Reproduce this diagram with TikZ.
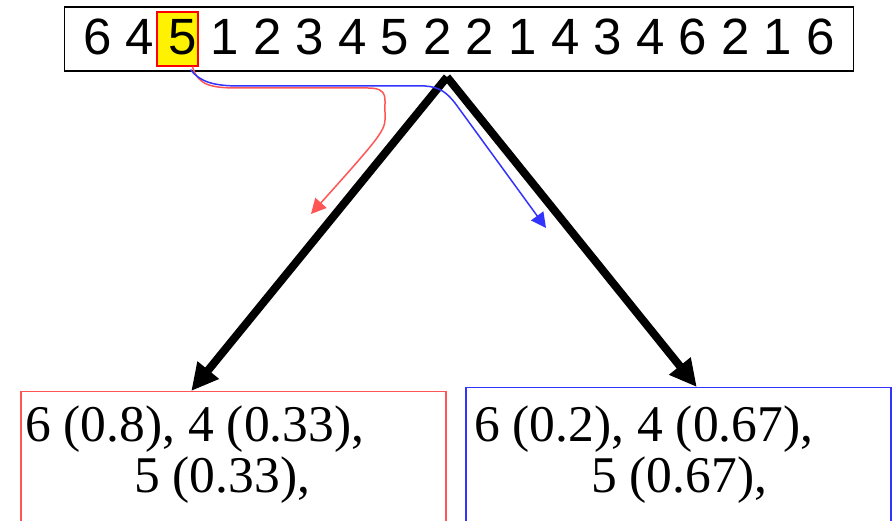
\documentclass[tikz,border=0pt]{standalone}
\usepackage{fontspec}
\setmainfont{Liberation Serif}
\newfontfamily\digitfont{Liberation Sans}
\usetikzlibrary{arrows.meta,calc}
\definecolor{SplitRed}{HTML}{FF5555}
\definecolor{SplitBlue}{HTML}{3333FF}

\begin{document}
\begin{tikzpicture}[
  x=1pt,y=-1pt,
  seqtext/.style={font=\digitfont\fontsize{51}{51}\selectfont,inner sep=0pt},
  leaftext/.style={font=\fontsize{51.5}{51}\selectfont,inner sep=0pt,anchor=base west},
  leaf/.style={draw,line width=1.5pt,anchor=north west,minimum width=425pt,
    minimum height=200pt,inner sep=0pt},
  branch/.style={-{Triangle[length=27pt,width=26pt]},line width=8pt},
  route/.style={-{Triangle[length=15pt,width=15pt]},line width=1.5pt},
]
\clip (0,0) rectangle (892,521);

% sequence with the chosen value
\node[draw=red,fill=yellow,line width=1.3pt,minimum width=41pt,minimum height=54pt,
  inner sep=0pt] (pick) at (177.5,39) {};
\node[draw,line width=1.5pt,minimum width=789pt,minimum height=64pt,inner sep=0pt]
  (seq) at (459,39) {};
\node[seqtext,anchor=base] (seqtxt) at (459,55)
  {6 4 5 1 2 3 4 5 2 2 1 4 3 4 6 2 1 6};

% the two children
\node[leaf,draw=SplitRed] (left) at (20,391) {};
\node[leaf,draw=SplitBlue] (right) at (465,387) {};
\node[leaftext] (left1) at (25,441) {6 (0.8), 4 (0.33),};
\node[leaftext] (left2) at (134,492) {5 (0.33),};
\node[leaftext] (right1) at (474,441) {6 (0.2), 4 (0.67),};
\node[leaftext] (right2) at (591,492) {5 (0.67),};

% split
\coordinate (apex) at (447,77);
\draw[branch] (apex) -- ([xshift=-42pt]left.north);
\draw[branch] (apex) -- ([xshift=18.5pt]right.north);

% where the value goes
\coordinate (redend) at (311,214);
\coordinate (blueend) at (546,228);
\draw[route,SplitRed] ([xshift=15pt]pick.south) .. controls (198,86) and (212,88) .. (240,88)
  -- (368,88) .. controls (390,88) and (384,100) .. (385,112)
  .. controls (386,130) .. (redend);
\draw[route,SplitBlue] ([xshift=13pt,yshift=-3pt]pick.south) .. controls (200,82) and (214,86) .. (240,86)
  -- (425,86) .. controls (440,87) and (447,93) .. (455,103)
  -- (blueend);
\end{tikzpicture}
\end{document}
